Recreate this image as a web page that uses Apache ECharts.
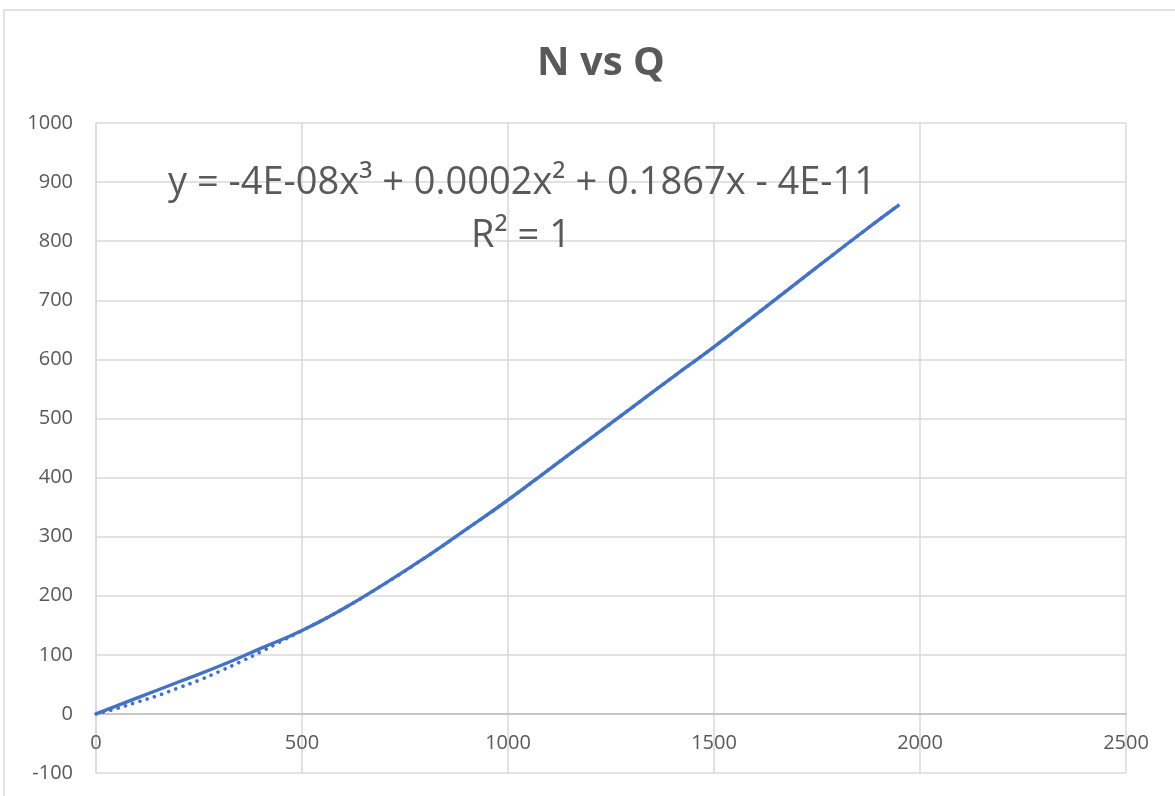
<!DOCTYPE html>
<html>
<head>
<meta charset="utf-8">
<script src="https://cdn.jsdelivr.net/npm/echarts@6/dist/echarts.min.js"></script>
<style>
html,body{margin:0;padding:0;background:#fff;}
#chart{width:1175px;height:796px;}
</style>
</head>
<body>
<div id="chart"></div>
<script>
// Data
const qValues = [0, 100, 200, 300, 400, 500, 600, 700, 800, 900, 1000, 1100, 1200, 1300, 1400, 1500, 1600, 1700, 1800, 1900, 1950];
const nValues = [0, 27, 54, 81, 111, 141, 178, 220, 265, 313, 362, 414, 466, 518, 570, 621, 675, 729, 783, 836, 862];
const trendQ = [0, 50, 100, 150, 200, 250, 300, 350, 400, 450, 500, 600, 700, 800, 900, 1000, 1100, 1200, 1300, 1400, 1500, 1600, 1700, 1800, 1900, 1950];
const trendN = [0, 9, 20, 31, 44, 57, 72, 88, 105, 123, 141, 178, 220, 265, 313, 362, 414, 466, 518, 570, 621, 675, 729, 783, 836, 862];
const xTicks = [0, 500, 1000, 1500, 2000, 2500];
const yTicks = [-100, 0, 100, 200, 300, 400, 500, 600, 700, 800, 900, 1000];
const titleText = 'N vs Q';
const equationText = 'y = -4E-08x³ + 0.0002x² + 0.1867x - 4E-11';
const r2Text = 'R² = 1';

const pairs = (xs, ys) => xs.map((x, i) => [x, ys[i]]);
const FONT = '"Open Sans", "Liberation Sans", sans-serif';
const chart = echarts.init(document.getElementById('chart'));
chart.setOption({
  animation: false,
  backgroundColor: '#fff',
  title: {
    text: titleText,
    left: 532,
    top: 39,
    textStyle: { fontFamily: FONT, fontSize: 40, fontWeight: 'bold', color: '#595959' }
  },
  grid: { left: 96, right: 49, top: 123, bottom: 23, outerBoundsMode: 'none', containLabel: false },
  xAxis: {
    type: 'value',
    min: xTicks[0], max: xTicks[xTicks.length - 1], interval: 500,
    offset: -650 / 11,
    axisLine: { onZero: false, lineStyle: { color: '#bfbfbf', width: 1.5 } },
    axisTick: { show: false },
    axisLabel: { fontFamily: FONT, fontSize: 20, color: '#595959', margin: 19, formatter: v => String(v) },
    splitLine: { lineStyle: { color: '#d9d9d9', width: 1.5 } }
  },
  yAxis: {
    type: 'value',
    min: yTicks[0], max: yTicks[yTicks.length - 1], interval: 100,
    axisLine: { show: true, lineStyle: { color: '#d9d9d9', width: 1.5 } },
    axisTick: { show: false },
    axisLabel: { fontFamily: FONT, fontSize: 20, color: '#595959', margin: 23, formatter: v => String(v) },
    splitLine: { lineStyle: { color: '#d9d9d9', width: 1.5 } }
  },
  graphic: [
    { type: 'rect', shape: { x: 4, y: 10, width: 1300, height: 900 }, style: { fill: 'none', stroke: '#d9d9d9', lineWidth: 1.5 }, z: -10, silent: true },
    { type: 'text', x: 522, y: 183, style: { text: equationText, fontFamily: FONT, fontSize: 38, fill: '#595959', align: 'center', verticalAlign: 'middle' }, z: 10 },
    { type: 'text', x: 521, y: 236, style: { text: r2Text, fontFamily: FONT, fontSize: 38, fill: '#595959', align: 'center', verticalAlign: 'middle' }, z: 10 }
  ],
  series: [
    {
      name: 'Trend', type: 'line', data: pairs(trendQ, trendN), smooth: true, showSymbol: false,
      lineStyle: { color: '#4472C4', width: 3.6, type: [0.1, 7.5], cap: 'round' }, z: 2
    },
    {
      name: 'N', type: 'line', data: pairs(qValues, nValues), smooth: true, showSymbol: false,
      lineStyle: { color: '#4472C4', width: 3.4 }, z: 3
    }
  ]
});
</script>
</body>
</html>
